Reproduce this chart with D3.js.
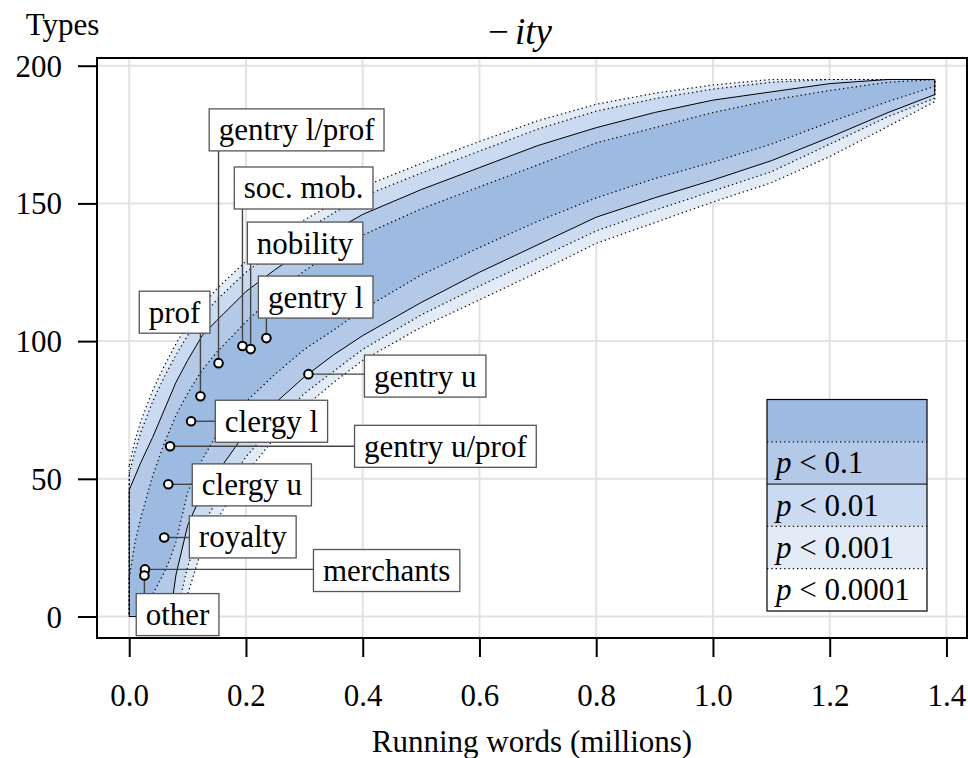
<!DOCTYPE html>
<html>
<head>
<meta charset="utf-8">
<script src="https://cdn.jsdelivr.net/npm/d3@7/dist/d3.min.js"></script>
<style>
  body { margin: 0; background: #fff; }
  svg { display: block; }
  text { font-family: "Liberation Serif", "Times New Roman", Times, serif; fill: #000; }
</style>
</head>
<body>
<svg id="chart" width="968" height="758"></svg>
<script>
// Sample sizes (running words, millions) at which the randomisation envelope was evaluated
const words = [0, 0.01, 0.02, 0.04, 0.06, 0.07, 0.08, 0.1, 0.125, 0.15, 0.2, 0.25, 0.3, 0.35, 0.4, 0.5, 0.6, 0.7, 0.8, 0.9, 1.0, 1.1, 1.2, 1.3, 1.38];

// Upper bounds of the envelope (types), outermost first
const upper0001 = [55, 64, 71, 82, 91, 95, 99, 106, 113, 119, 129, 137, 144, 150, 156, 164.5, 172.5, 180, 186, 190, 193, 195, 195, 195, 195];
const upper001  = [52, 60, 67, 78, 87, 91, 95, 102, 109, 115, 125, 133, 140, 146.5, 152.5, 161, 169, 177, 183.5, 188, 191.5, 194, 195, 195, 195];
const upper01   = [46, 51, 56, 65, 75, 80, 85, 93, 102, 107.5, 118, 126, 133, 140, 146, 155, 163, 171, 177.5, 183, 187.5, 190.5, 193.5, 195, 195];
const upper1    = [14, 27, 36, 51, 63, 68, 73, 81, 89.5, 96, 107, 117, 125.5, 132.5, 138.5, 148, 156, 164, 172, 177.5, 183, 187.5, 191, 194, 195];

// Lower bounds of the envelope (types), innermost first
const lower1    = [0, 0, 2, 8, 16, 21, 27, 45, 57, 66, 78, 88, 97, 104, 111.5, 124, 134, 143.5, 152, 159, 165, 171.5, 179.5, 187, 192.5];
const lower01   = [0, 0, 0, 0, 0, 0, 15, 33, 45, 52, 67, 77.5, 87, 95, 102, 114, 125, 135, 145, 152, 158.5, 165.5, 174, 183, 189.5];
const lower001  = [0, 0, 0, 0, 0, 0, 0, 18, 33, 42, 58, 70, 81, 89, 97, 109.5, 120, 130, 140, 147.5, 154.5, 161.5, 171.5, 181.5, 188.2];
const lower0001 = [0, 0, 0, 0, 0, 0, 0, 8, 25, 35, 52, 65, 76, 85, 93, 105, 115, 125, 135.5, 143, 150.5, 157.5, 167, 178, 187];

// Social groups: running words (millions) and -ity types observed
const groups     = ["gentry l/prof", "soc. mob.", "nobility", "gentry l", "prof", "gentry u", "clergy l", "gentry u/prof", "clergy u", "royalty", "merchants", "other"];
const groupWords = [0.153, 0.194, 0.208, 0.235, 0.122, 0.307, 0.106, 0.070, 0.067, 0.060, 0.027, 0.026];
const groupTypes = [92, 98.2, 97.1, 101.1, 80, 88, 70.9, 61.8, 48, 28.7, 17.1, 14.9];

// Where each label box sits (left edge and vertical centre, data units) and how its leader runs
const labelWords = [0.137, 0.180, 0.2024, 0.2213, 0.0172, 0.403, 0.1475, 0.386, 0.108, 0.103, 0.3156, 0.012];
const labelTypes = [176.7, 155.6, 135.6, 116, 110.5, 87.3, 70.9, 61.8, 47.8, 28.9, 16.7, 0.7];
const leaderDir  = ["up", "up", "up", "up", "up", "right", "right", "right", "right", "right", "right", "down"];

const xTicks = [0, 0.2, 0.4, 0.6, 0.8, 1.0, 1.2, 1.4];
const yTicks = [0, 50, 100, 150, 200];
const legendLevels = ["", "0.1", "0.01", "0.001", "0.0001"];

const colDark = "#9dbae0", colMid = "#b4c9e8", colLight = "#cadaf0", colPale = "#e3ebf7";
const fontSize = 31;

const svg = d3.select("#chart");
const plot = { left: 97, right: 967, top: 58, bottom: 638 };

// R-style 4% axis expansion
const xExt = d3.extent(words), xPad = (xExt[1] - xExt[0]) * 0.04;
const yMax = d3.max(upper0001), yPad = yMax * 0.04;
const x = d3.scaleLinear().domain([xExt[0] - xPad, xExt[1] + xPad]).range([plot.left, plot.right]);
const y = d3.scaleLinear().domain([-yPad, yMax + yPad]).range([plot.bottom, plot.top]);

svg.append("clipPath").attr("id", "plotclip").append("rect")
  .attr("x", plot.left).attr("y", plot.top)
  .attr("width", plot.right - plot.left).attr("height", plot.bottom - plot.top);

const g = svg.append("g").attr("clip-path", "url(#plotclip)");

// grid
g.selectAll("line.vg").data(xTicks).join("line")
  .attr("x1", d => x(d)).attr("x2", d => x(d))
  .attr("y1", plot.top).attr("y2", plot.bottom)
  .attr("stroke", "#e2e2e2").attr("stroke-width", 2);
g.selectAll("line.hg").data(yTicks).join("line")
  .attr("y1", d => y(d)).attr("y2", d => y(d))
  .attr("x1", plot.left).attr("x2", plot.right)
  .attr("stroke", "#e2e2e2").attr("stroke-width", 2);

// envelope bands, outermost first
const bands = [
  { up: upper0001, lo: lower0001, fill: colPale,  dash: "1.3 3" },
  { up: upper001,  lo: lower001,  fill: colLight, dash: "1.3 3" },
  { up: upper01,   lo: lower01,   fill: colMid,   dash: null },
  { up: upper1,    lo: lower1,    fill: colDark,  dash: "1.3 3" }
];
const poly = b => {
  const top = words.map((w, i) => [x(w), y(b.up[i])]);
  const bot = words.map((w, i) => [x(w), y(b.lo[i])]).reverse();
  return d3.line()(top.concat(bot)) + "Z";
};
bands.forEach(b => {
  g.append("path").attr("d", poly(b)).attr("fill", b.fill).attr("stroke", "none");
});
bands.forEach(b => {
  g.append("path").attr("d", poly(b)).attr("fill", "none")
    .attr("stroke", "#000").attr("stroke-width", b.dash ? 1.2 : 1)
    .attr("stroke-dasharray", b.dash)
    .attr("stroke-linejoin", "round");
});

// group labels with leaders
const labG = svg.append("g");
groups.forEach((name, i) => {
  const px = x(groupWords[i]), py = y(groupTypes[i]);
  const bx = x(labelWords[i]), bcy = y(labelTypes[i]);
  const lg = labG.append("g");
  const line = lg.append("line").attr("stroke", "#444").attr("stroke-width", 1.4);
  const rect = lg.append("rect").attr("fill", "#fff").attr("stroke", "#555").attr("stroke-width", 1.3);
  const txt = lg.append("text").attr("font-size", fontSize).attr("x", bx + 9.5).attr("y", bcy + 10.5).text(name);
  const w = txt.node().getComputedTextLength() + 19;
  const h = 42;
  rect.attr("x", bx).attr("y", bcy - h / 2).attr("width", w).attr("height", h);
  if (leaderDir[i] === "up") {
    line.attr("x1", px).attr("y1", py).attr("x2", px).attr("y2", bcy + h / 2);
  } else if (leaderDir[i] === "down") {
    line.attr("x1", px).attr("y1", py).attr("x2", px).attr("y2", bcy - h / 2);
  } else {
    line.attr("x1", px).attr("y1", py).attr("x2", bx).attr("y2", py);
  }
});
// points drawn above leaders
labG.selectAll("circle").data(groups).join("circle")
  .attr("cx", (d, i) => x(groupWords[i])).attr("cy", (d, i) => y(groupTypes[i]))
  .attr("r", 4.3).attr("fill", "#fff").attr("stroke", "#000").attr("stroke-width", 2);

// legend
const leg = { x: 767, y: 399.5, w: 160, rowH: 42.3 };
const legFills = [colDark, colMid, colLight, colPale, "#fff"];
const lg = svg.append("g");
legendLevels.forEach((lev, i) => {
  lg.append("rect").attr("x", leg.x).attr("y", leg.y + i * leg.rowH)
    .attr("width", leg.w).attr("height", leg.rowH).attr("fill", legFills[i]);
  if (lev) {
    const t = lg.append("text").attr("font-size", fontSize)
      .attr("x", leg.x + 9).attr("y", leg.y + i * leg.rowH + leg.rowH / 2 + 10.5);
    t.append("tspan").attr("font-style", "italic").text("p");
    t.append("tspan").text(" < " + lev);
  }
});
[1, 2, 3, 4].forEach(k => {
  lg.append("line").attr("x1", leg.x).attr("x2", leg.x + leg.w)
    .attr("y1", leg.y + k * leg.rowH).attr("y2", leg.y + k * leg.rowH)
    .attr("stroke", "#000").attr("stroke-width", k === 2 ? 1 : 1.2)
    .attr("stroke-dasharray", k === 2 ? null : "1.3 3");
});
lg.append("rect").attr("x", leg.x).attr("y", leg.y).attr("width", leg.w).attr("height", leg.rowH * 5)
  .attr("fill", "none").attr("stroke", "#000").attr("stroke-width", 1.2);

// frame
svg.append("rect").attr("x", plot.left).attr("y", plot.top)
  .attr("width", plot.right - plot.left).attr("height", plot.bottom - plot.top)
  .attr("fill", "none").attr("stroke", "#000").attr("stroke-width", 2);

// axes
const yAxis = svg.append("g").attr("transform", `translate(${plot.left},0)`)
  .call(d3.axisLeft(y).tickValues(yTicks).tickSize(19).tickPadding(16).tickFormat(d3.format("d")));
yAxis.select(".domain").remove();
yAxis.selectAll("line").attr("stroke", "#000").attr("stroke-width", 2);
yAxis.selectAll("text").attr("font-size", fontSize).attr("font-family", null).attr("dy", "0.34em");

const xAxis = svg.append("g").attr("transform", `translate(0,${plot.bottom})`)
  .call(d3.axisBottom(x).tickValues(xTicks).tickSize(19).tickPadding(27).tickFormat(d3.format(".1f")));
xAxis.select(".domain").remove();
xAxis.selectAll("line").attr("stroke", "#000").attr("stroke-width", 2);
xAxis.selectAll("text").attr("font-size", fontSize).attr("font-family", null);

// titles
svg.append("text").attr("x", 62.5).attr("y", 35).attr("text-anchor", "middle")
  .attr("font-size", fontSize).text("Types");
const title = svg.append("text").attr("x", 520).attr("y", 44).attr("text-anchor", "middle").attr("font-size", 37);
title.append("tspan").text("\u2212");
title.append("tspan").attr("dx", 6).attr("font-style", "italic").text("ity");
svg.append("text").attr("x", (plot.left + plot.right) / 2).attr("y", 752).attr("text-anchor", "middle")
  .attr("font-size", fontSize).text("Running words (millions)");
</script>
</body>
</html>
